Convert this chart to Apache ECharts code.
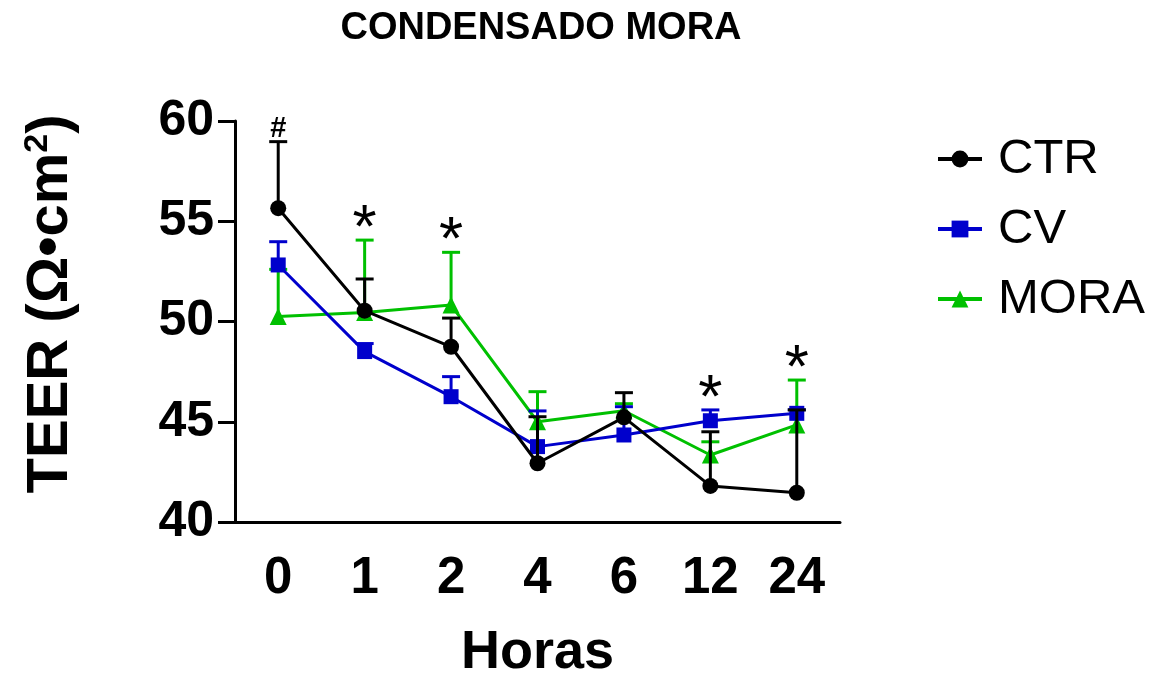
<!DOCTYPE html>
<html>
<head>
<meta charset="utf-8">
<script src="https://cdn.jsdelivr.net/npm/echarts@6/dist/echarts.min.js"></script>
<style>
  html, body { margin: 0; padding: 0; background: #fff; }
  #chart { width: 1159px; height: 674px; }
</style>
</head>
<body>
<div id="chart"></div>
<script>
// Time points (hours) and TEER means with upper SEM ends
const hours = ['0', '1', '2', '4', '6', '12', '24'];

const ctrMean  = [55.65, 50.54, 48.74, 42.93, 45.22, 41.80, 41.46];
const ctrUpper = [58.97, 52.12, 50.17, 45.25, 46.45, 44.50, 45.59];

const cvMean   = [52.82, 48.50, 46.25, 43.76, 44.34, 45.05, 45.42];
const cvUpper  = [53.98, 48.90, 47.25, 45.54, 45.75, 45.59, 45.60];

const moraMean  = [50.25, 50.45, 50.82, 45.00, 45.55, 43.34, 44.84];
const moraUpper = [52.60, 54.06, 53.45, 46.50, 45.90, 44.00, 47.08];

// Significance marks shown above the tallest error bar of each time point
const marks = ['#', '*', '*', '', '', '*', '*'];

const yTicks = { min: 40, max: 60, step: 5 };

const COLORS = { CTR: '#000000', CV: '#0000CC', MORA: '#00C000' };
const FONT = '"Liberation Sans", Arial, sans-serif';

function errorBars(name, color, means, uppers, z) {
  return {
    type: 'custom',
    name: name + ' SEM',
    z: z,
    silent: true,
    data: means.map((m, i) => [i, m, uppers[i]]),
    renderItem: function (params, api) {
      const p = api.coord([api.value(0), api.value(1)]);
      const t = api.coord([api.value(0), api.value(2)]);
      const half = 9;
      const st = { stroke: color, lineWidth: 3 };
      return {
        type: 'group',
        children: [
          { type: 'line', shape: { x1: p[0], y1: p[1], x2: p[0], y2: t[1] }, style: st },
          { type: 'line', shape: { x1: p[0] - half, y1: t[1], x2: p[0] + half, y2: t[1] }, style: st }
        ]
      };
    }
  };
}

function meanLine(name, color, means, symbol, size, z) {
  return {
    type: 'line',
    name: name,
    z: z,
    data: means,
    symbol: symbol,
    symbolSize: size,
    showSymbol: true,
    lineStyle: { color: color, width: 3 },
    itemStyle: { color: color, borderWidth: 0 },
    emphasis: { disabled: true }
  };
}

const markTops = hours.map((h, i) => Math.max(ctrUpper[i], cvUpper[i], moraUpper[i]));

const chart = echarts.init(document.getElementById('chart'), null, { renderer: 'canvas' });

chart.setOption({
  animation: false,
  backgroundColor: '#ffffff',
  title: {
    text: 'CONDENSADO MORA',
    left: 536,
    top: 5,
    textAlign: 'center',
    textStyle: { fontFamily: FONT, fontWeight: 'bold', fontSize: 38, color: '#000' }
  },
  legend: {
    orient: 'vertical',
    left: 931,
    top: 129,
    itemWidth: 44,
    itemHeight: 21,
    itemGap: 20,
    data: ['CTR', 'CV', 'MORA'],
    lineStyle: { width: 4 },
    textStyle: { fontFamily: FONT, fontSize: 49, color: '#000', lineHeight: 50, padding: [0, 0, 0, 11] }
  },
  grid: { left: 235, right: 319, top: 121, bottom: 152, containLabel: false, outerBoundsMode: 'none' },
  xAxis: {
    type: 'category',
    data: hours,
    boundaryGap: true,
    name: 'Horas',
    nameLocation: 'middle',
    nameGap: 104,
    nameTextStyle: { fontFamily: FONT, fontWeight: 'bold', fontSize: 54, color: '#000' },
    axisLine: { lineStyle: { color: '#000', width: 3 } },
    axisTick: { alignWithLabel: true, length: 16, lineStyle: { color: '#000', width: 3 } },
    axisLabel: { fontFamily: FONT, fontWeight: 'bold', fontSize: 51, color: '#000', margin: 31 },
    splitLine: { show: false }
  },
  yAxis: {
    type: 'value',
    min: yTicks.min,
    max: yTicks.max,
    interval: yTicks.step,
    name: '{a|TEER (Ω•cm}{s|2}{a|)}',
    nameLocation: 'middle',
    nameRotate: 90,
    nameGap: 154,
    nameTextStyle: {
      padding: [0, 0, 0, 35],
      rich: {
        a: { fontFamily: FONT, fontWeight: 'bold', fontSize: 58, color: '#000' },
        s: { fontFamily: FONT, fontWeight: 'bold', fontSize: 34, color: '#000', padding: [0, 0, 26, 0] }
      }
    },
    axisLine: { show: true, lineStyle: { color: '#000', width: 3 } },
    axisTick: { show: true, length: 17, lineStyle: { color: '#000', width: 3 } },
    axisLabel: { fontFamily: FONT, fontWeight: 'bold', fontSize: 50, color: '#000', margin: 21 },
    splitLine: { show: false }
  },
  series: [
    errorBars('MORA', COLORS.MORA, moraMean, moraUpper, 2),
    meanLine('MORA', COLORS.MORA, moraMean, 'triangle', 17, 3),
    errorBars('CV', COLORS.CV, cvMean, cvUpper, 4),
    meanLine('CV', COLORS.CV, cvMean, 'rect', 15, 5),
    errorBars('CTR', COLORS.CTR, ctrMean, ctrUpper, 6),
    meanLine('CTR', COLORS.CTR, ctrMean, 'circle', 16, 7),
    {
      // significance marks
      type: 'custom',
      name: 'marks',
      z: 8,
      silent: true,
      data: markTops.map((v, i) => [i, v]),
      renderItem: function (params, api) {
        const i = params.dataIndex;
        const m = marks[i];
        if (!m) return null;
        const t = api.coord([api.value(0), api.value(1)]);
        const isHash = m === '#';
        return {
          type: 'text',
          x: t[0],
          y: t[1] - (isHash ? 13 : 10),
          style: {
            text: m,
            fill: '#000',
            font: isHash ? 'bold 29px ' + FONT : 'normal 62px ' + FONT,
            textAlign: 'center',
            textVerticalAlign: 'middle'
          }
        };
      }
    }
  ]
});
</script>
</body>
</html>
